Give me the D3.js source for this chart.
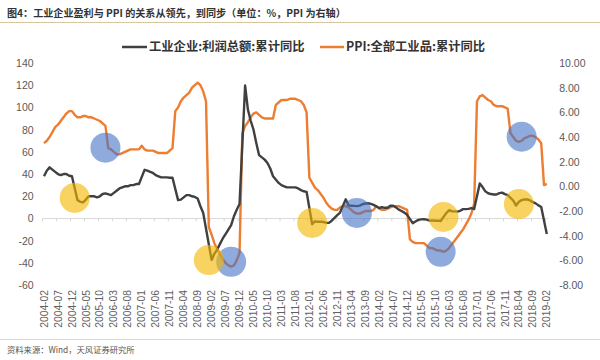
<!DOCTYPE html>
<html>
<head>
<meta charset="utf-8">
<script src="https://cdn.jsdelivr.net/npm/d3@7/dist/d3.min.js"></script>
<style>
  html, body { margin: 0; padding: 0; background: #fff; }
  svg { display: block; }
  text { font-family: "Liberation Sans", Arial, "Noto Sans CJK SC", sans-serif; }
  .cjk { font-family: "Noto Sans CJK SC", "Liberation Sans", sans-serif; }
</style>
</head>
<body>
<svg id="chart" width="600" height="360"></svg>
<script>
// ---------------- data ----------------
const titleText = "图4：工业企业盈利与 PPI 的关系从领先，到同步（单位：%，PPI 为右轴）";
const sourceText = "资料来源：Wind，天风证券研究所";
const seriesNames = ["工业企业:利润总额:累计同比", "PPI:全部工业品:累计同比"];

const startYear = 2004, startMonth = 2, endYear = 2019, endMonth = 2;

// 工业企业:利润总额:累计同比 (%), left axis; Jan (and 2008-12) not published -> null
const profit = [
  /*2004*/ 38, 43, 46, 44, 42, 40, 39, 40, 40, 38.5, 38,
  /*2005*/ null, 16.5, 15, 14.5, 17, 20, 20, 20, 19, 20, 22, 22.6,
  /*2006*/ null, 21, 23, 25, 27, 28, 29, 29, 30, 30, 31, 31,
  /*2007*/ null, 43.8, 43, 42, 41, 39, 38, 37, 37, 37, 36.7, 36.7,
  /*2008*/ null, 16.5, 17, 19, 21, 21, 20, 19.4, 18, 11, 4.9, null,
  /*2009*/ null, -37.3, -31.7, -28, -22.9, -18, -14, -10, -6, 2, 7.8, 13,
  /*2010*/ null, 119.7, 98, 88, 80, 68, 57, 55, 53, 50, 45, 38,
  /*2011*/ null, 32, 30, 29, 28, 28, 28, 28, 27, 25.5, 24.5, 24,
  /*2012*/ null, -5.2, -2.5, -3, -3, -3.2, -3.8, -4, -2, 0.5, 3, 5.3,
  /*2013*/ null, 17.2, 12.1, 11.4, 11.3, 11.1, 11.6, 12.8, 13.5, 13.7, 13.2, 12.2,
  /*2014*/ null, 9.4, 10.1, 9.6, 9.6, 11.4, 11.5, 10, 7.9, 6.7, 5.3, 3.3,
  /*2015*/ null, -4.2, -2.7, -1.3, -0.8, -0.7, -1, -1.9, -1.7, -2, -1.9, -2.3,
  /*2016*/ null, 4.8, 7.4, 6.5, 6.4, 6.2, 6.9, 8.4, 8.4, 8.6, 9.4, 8.5,
  /*2017*/ null, 31.5, 28.3, 24.4, 22.7, 22, 21.6, 21.6, 22.8, 23.3, 21.9, 21,
  /*2018*/ null, 16.1, 11.6, 15, 16.5, 17.2, 17.1, 16.2, 14.7, 13.6, 11.8, 10.3,
  /*2019*/ null, -14
];

// PPI:全部工业品:累计同比 (%), right axis
const ppi = [
  /*2004*/ 3.5, 3.7, 4.0, 4.4, 4.8, 5.0, 5.3, 5.6, 5.9, 6.1, 6.1,
  /*2005*/ 5.8, 5.6, 5.6, 5.7, 5.7, 5.6, 5.6, 5.5, 5.4, 5.3, 5.1, 4.9,
  /*2006*/ 3.1, 3.0, 2.8, 2.6, 2.6, 2.7, 2.8, 2.9, 3.0, 3.0, 3.0, 3.0,
  /*2007*/ 3.3, 3.0, 2.9, 2.9, 2.9, 2.8, 2.7, 2.7, 2.7, 2.7, 2.9, 3.1,
  /*2008*/ 6.1, 6.4, 6.9, 7.2, 7.4, 7.6, 8.0, 8.2, 8.4, 8.2, 7.7, 6.9,
  /*2009*/ -3.3, -3.9, -4.6, -5.1, -5.5, -5.9, -6.2, -6.4, -6.5, -6.4, -6.0, -5.4,
  /*2010*/ 4.3, 4.9, 5.2, 5.6, 5.9, 6.0, 5.8, 5.6, 5.5, 5.5, 5.5, 5.5,
  /*2011*/ 6.6, 6.8, 7.0, 7.0, 7.0, 7.1, 7.1, 7.1, 7.0, 6.9, 6.6, 6.0,
  /*2012*/ 0.7, 0.3, -0.1, -0.3, -0.6, -0.9, -1.3, -1.6, -1.8, -1.9, -1.9, -1.7,
  /*2013*/ -1.6, -1.6, -1.7, -1.9, -2.1, -2.2, -2.2, -2.1, -2.0, -2.0, -2.0, -1.9,
  /*2014*/ -1.6, -1.8, -1.9, -1.9, -1.8, -1.7, -1.6, -1.6, -1.6, -1.7, -1.8, -1.9,
  /*2015*/ -4.3, -4.5, -4.6, -4.6, -4.6, -4.6, -4.8, -5.0, -5.0, -5.1, -5.2, -5.2,
  /*2016*/ -5.3, -5.2, -5.0, -4.7, -4.4, -4.1, -3.8, -3.5, -3.1, -2.7, -2.2, -1.4,
  /*2017*/ 6.9, 7.3, 7.4, 7.2, 7.0, 6.9, 6.6, 6.5, 6.5, 6.5, 6.4, 6.3,
  /*2018*/ 4.3, 4.0, 3.7, 3.6, 3.7, 3.9, 4.0, 4.1, 4.1, 4.0, 3.8, 3.5,
  /*2019*/ 0.1, 0.2
];

const xTickLabels = ["2004-02","2004-07","2004-12","2005-05","2005-10","2006-03","2006-08",
  "2007-01","2007-06","2007-11","2008-04","2008-09","2009-02","2009-07","2009-12","2010-05",
  "2010-10","2011-03","2011-08","2012-01","2012-06","2012-11","2013-04","2013-09","2014-02",
  "2014-07","2014-12","2015-05","2015-10","2016-03","2016-08","2017-01","2017-06","2017-11",
  "2018-04","2018-09","2019-02"];
const leftTicks = [-60, -40, -20, 0, 20, 40, 60, 80, 100, 120, 140];
const rightTicks = [-8, -6, -4, -2, 0, 2, 4, 6, 8, 10];

// highlight circles (annotation): month + value on left axis
const blueMarks = [
  {month: "2005-12", value: 63.7},
  {month: "2009-09", value: -39},
  {month: "2013-06", value: 5},
  {month: "2015-12", value: -30},
  {month: "2018-05", value: 73.6}
];
const yellowMarks = [
  {month: "2005-01", value: 18.5},
  {month: "2009-01", value: -37.5},
  {month: "2012-02", value: -4},
  {month: "2016-01", value: 1.4},
  {month: "2018-04", value: 13}
];

// ---------------- build ----------------
const months = [];
for (let y = startYear, m = startMonth; y < endYear || (y === endYear && m <= endMonth); ) {
  months.push(y + "-" + String(m).padStart(2, "0"));
  m++; if (m > 12) { m = 1; y++; }
}
const rows = months.map((mo, i) => ({month: mo, profit: profit[i], ppi: ppi[i]}));

const svg = d3.select("#chart");
const plotLeft = 42.6, plotRight = 548.2, plotTop = 63, plotBottom = 285.1;

const xb = d3.scaleBand().domain(months).range([plotLeft, plotRight]).padding(0);
const xc = d => xb(d) + xb.bandwidth() / 2;
const yL = d3.scaleLinear().domain([-60, 140]).range([plotBottom, plotTop]);
const yR = d3.scaleLinear().domain([-8, 10]).range([plotBottom, plotTop]);

// title
svg.append("text").attr("class", "cjk").attr("x", 7).attr("y", 17)
  .attr("font-size", 10.1).attr("font-weight", "bold").attr("fill", "#333").text(titleText);
svg.append("line").attr("x1", 0).attr("x2", 600).attr("y1", 22.5).attr("y2", 22.5)
  .attr("stroke", "#d8c6a2").attr("stroke-width", 1);

// legend
const legend = [
  {name: seriesNames[0], color: "#404040", x1: 122, x2: 147, tx: 149},
  {name: seriesNames[1], color: "#ed7d31", x1: 320, x2: 344, tx: 346}
];
legend.forEach(l => {
  svg.append("line").attr("x1", l.x1).attr("x2", l.x2).attr("y1", 47).attr("y2", 47)
    .attr("stroke", l.color).attr("stroke-width", 2.5);
  svg.append("text").attr("class", "cjk").attr("x", l.tx).attr("y", 47).attr("dy", "0.36em")
    .attr("font-size", 12.3).attr("font-weight", "bold").attr("fill", "#333").text(l.name);
});

// left axis
const gL = svg.append("g").attr("transform", `translate(${plotLeft},0)`)
  .call(d3.axisLeft(yL).tickValues(leftTicks).tickSize(0).tickPadding(9)
    .tickFormat(d => String(d)));
gL.select(".domain").remove();
gL.selectAll("text").attr("font-size", 10.5).attr("fill", "#595959");

// right axis
const gR = svg.append("g").attr("transform", `translate(${plotRight + 8},0)`)
  .call(d3.axisRight(yR).tickValues(rightTicks).tickSize(0).tickPadding(3)
    .tickFormat(d => d.toFixed(2)));
gR.select(".domain").remove();
gR.selectAll("text").attr("font-size", 10.5).attr("fill", "#595959");

// zero line with ticks
const y0 = yL(0);
svg.append("line").attr("x1", plotLeft).attr("x2", plotRight).attr("y1", y0).attr("y2", y0)
  .attr("stroke", "#d9d9d9").attr("stroke-width", 1);
svg.append("g").selectAll("line").data(xTickLabels).join("line")
  .attr("x1", d => xb(d)).attr("x2", d => xb(d))
  .attr("y1", y0).attr("y2", y0 + 3).attr("stroke", "#d9d9d9").attr("stroke-width", 1);

// x labels
svg.append("g").selectAll("text").data(xTickLabels).join("text")
  .attr("transform", d => `translate(${xc(d)},290) rotate(-90)`)
  .attr("text-anchor", "end").attr("dy", "0.35em")
  .attr("font-size", 10.3).attr("fill", "#5f5f5f").text(d => d);

// lines
const lineProfit = d3.line().x(d => xc(d.month)).y(d => yL(d.profit));
const linePPI = d3.line().x(d => xc(d.month)).y(d => yR(d.ppi));
svg.append("path").datum(rows.filter(d => d.ppi != null)).attr("d", linePPI)
  .attr("fill", "none").attr("stroke", "#ed7d31").attr("stroke-width", 2.4)
  .attr("stroke-linejoin", "round");
svg.append("path").datum(rows.filter(d => d.profit != null)).attr("d", lineProfit)
  .attr("fill", "none").attr("stroke", "#404040").attr("stroke-width", 2.4)
  .attr("stroke-linejoin", "round");

// highlight circles
svg.append("g").selectAll("circle").data(blueMarks).join("circle")
  .attr("cx", d => xc(d.month)).attr("cy", d => yL(d.value)).attr("r", 15)
  .attr("fill", "#4472c4").attr("fill-opacity", 0.6);
svg.append("g").selectAll("circle").data(yellowMarks).join("circle")
  .attr("cx", d => xc(d.month)).attr("cy", d => yL(d.value)).attr("r", 15)
  .attr("fill", "#f5b800").attr("fill-opacity", 0.62);

// source
svg.append("line").attr("x1", 0).attr("x2", 600).attr("y1", 339.5).attr("y2", 339.5)
  .attr("stroke", "#e3d9c0").attr("stroke-width", 1);
svg.append("text").attr("class", "cjk").attr("x", 7).attr("y", 350).attr("dy", "0.36em")
  .attr("font-size", 8.3).attr("fill", "#555").text(sourceText);
</script>
</body>
</html>
